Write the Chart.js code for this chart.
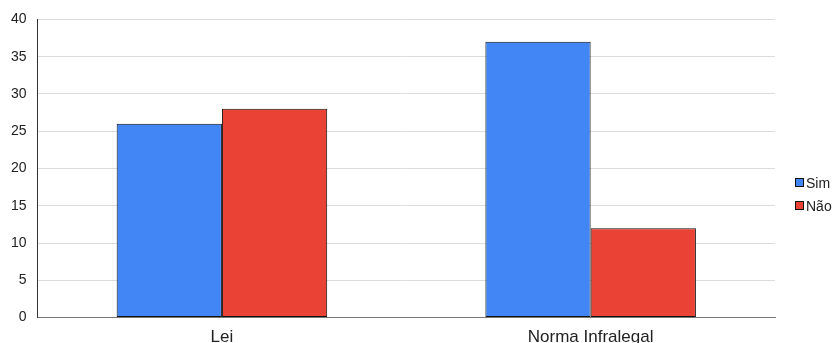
<!DOCTYPE html>
<html>
<head>
<meta charset="utf-8">
<script src="https://cdn.jsdelivr.net/npm/chart.js@4"></script>
<style>
  html, body { margin: 0; padding: 0; background: #fff; overflow: hidden; }
  #wrap { position: relative; width: 834px; height: 343px; overflow: hidden; }
  #legend {
    position: absolute; left: 795px; top: 171px;
    font: 14px "Liberation Sans", Arial, Helvetica, sans-serif; color: #222;
  }
  #legend .item { display: flex; align-items: center; height: 23px; }
  #legend .box { width: 7px; height: 7px; border: 1px solid #111; margin-right: 2px; }
</style>
</head>
<body>
<div id="wrap">
  <canvas id="chart" width="834" height="350"></canvas>
  <div id="legend"></div>
</div>
<script>
const categories = ["Lei", "Norma Infralegal"];
const simValues = [26, 37];
const naoValues = [28, 12];
const seriesNames = ["Sim", "Não"];
const seriesColors = ["#4285f4", "#ea4335"];
const yTicks = [0, 5, 10, 15, 20, 25, 30, 35, 40];

const fontFamily = "Liberation Sans, Arial, Helvetica, sans-serif";
const ctx = document.getElementById("chart").getContext("2d");

const chart = new Chart(ctx, {
  type: "bar",
  data: {
    labels: categories,
    datasets: [
      {
        label: seriesNames[0],
        data: simValues,
        backgroundColor: seriesColors[0],
        borderColor: "#111",
        borderWidth: 1,
        borderSkipped: false,
        categoryPercentage: 0.571,
        barPercentage: 1
      },
      {
        label: seriesNames[1],
        data: naoValues,
        backgroundColor: seriesColors[1],
        borderColor: "#111",
        borderWidth: 1,
        borderSkipped: false,
        categoryPercentage: 0.571,
        barPercentage: 1
      }
    ]
  },
  options: {
    responsive: false,
    animation: false,
    layout: { padding: { top: 12, right: 59, left: 0, bottom: 0 } },
    plugins: {
      tooltip: { enabled: false },
      legend: { display: false }
    },
    scales: {
      x: {
        grid: { display: false },
        border: { color: "#777", width: 1 },
        ticks: {
          color: "#222",
          padding: 2,
          font: { family: fontFamily, size: 17 }
        }
      },
      y: {
        min: 0,
        max: 40,
        afterBuildTicks: axis => { axis.ticks = yTicks.map(v => ({ value: v })); },
        grid: {
          color: c => (c.tick && c.tick.value === 0) ? "#777" : "#dcdcdc",
          drawTicks: false
        },
        border: { color: "#333", width: 1 },
        ticks: {
          color: "#222",
          padding: 11,
          font: { family: fontFamily, size: 14 }
        }
      }
    }
  }
});

// legenda à direita, feita a partir dos datasets
const legend = document.getElementById("legend");
chart.data.datasets.forEach(ds => {
  const item = document.createElement("div");
  item.className = "item";
  const box = document.createElement("span");
  box.className = "box";
  box.style.background = ds.backgroundColor;
  const txt = document.createElement("span");
  txt.textContent = ds.label;
  item.appendChild(box);
  item.appendChild(txt);
  legend.appendChild(item);
});
</script>
</body>
</html>
